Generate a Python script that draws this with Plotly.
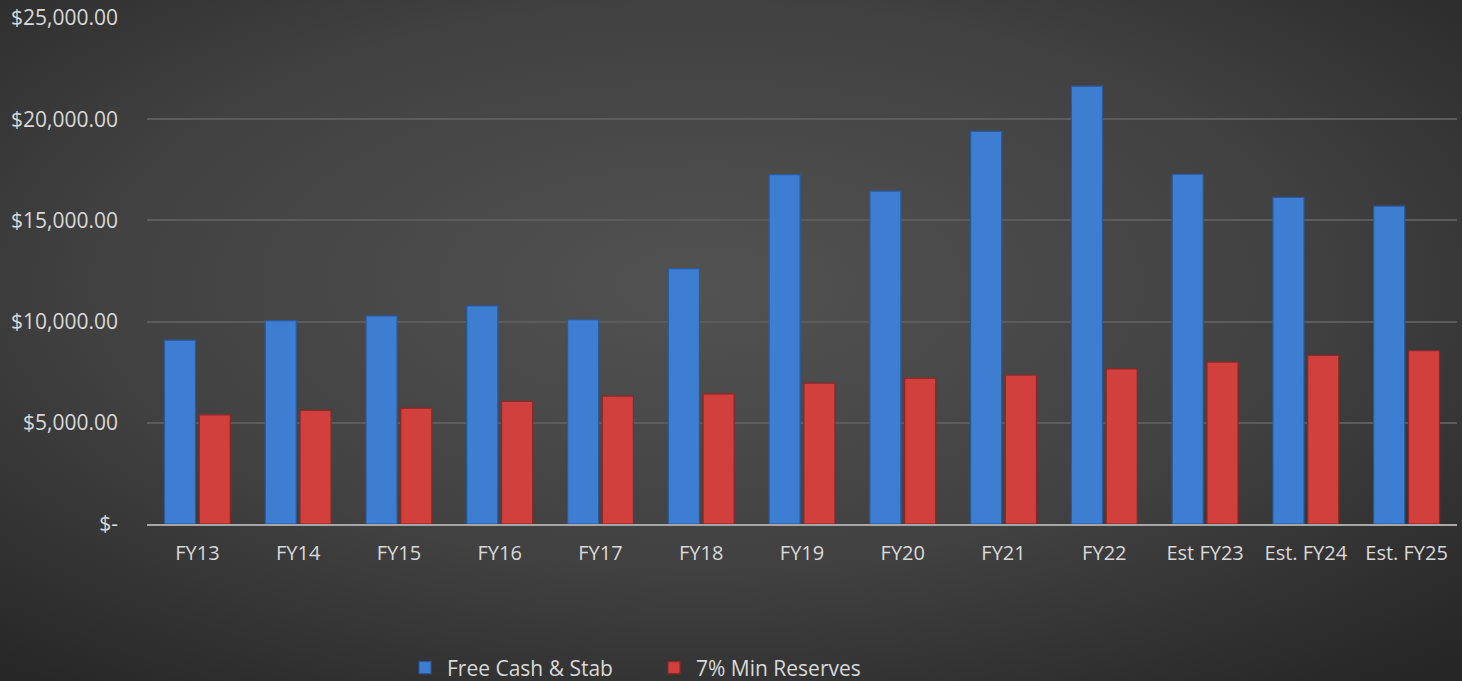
import plotly.graph_objects as go
import urllib.parse

categories = ["FY13", "FY14", "FY15", "FY16", "FY17", "FY18", "FY19", "FY20",
              "FY21", "FY22", "Est FY23", "Est. FY24", "Est. FY25"]
free_cash = [9080, 10050, 10280, 10775, 10100, 12620, 17260, 16450,
             19400, 21630, 17280, 16140, 15710]
min_reserves = [5395, 5610, 5725, 6055, 6320, 6430, 6960, 7205,
                7360, 7660, 8000, 8330, 8560]
y_tickvals = [0, 5000, 10000, 15000, 20000, 25000]
y_ticktext = ["$-", "$5,000.00", "$10,000.00", "$15,000.00", "$20,000.00", "$25,000.00"]

W, H = 1462, 681
L, R, T, B = 147, 5, 18, 157

svg = (
    "<svg xmlns='http://www.w3.org/2000/svg' width='1462' height='681'>"
    "<defs><radialGradient id='g' cx='48%' cy='42%' r='75%'>"
    "<stop offset='0%' stop-color='#525252'/>"
    "<stop offset='55%' stop-color='#414141'/>"
    "<stop offset='100%' stop-color='#262626'/>"
    "</radialGradient></defs>"
    "<rect width='1462' height='681' fill='url(#g)'/></svg>"
)
svg_uri = "data:image/svg+xml;charset=utf-8," + urllib.parse.quote(svg)

fig = go.Figure()
fig.add_trace(go.Bar(
    x=categories, y=free_cash, name="Free Cash & Stab",
    marker=dict(color="#3d7ed3", line=dict(color="#285a9c", width=1.2)),
))
fig.add_trace(go.Bar(
    x=categories, y=min_reserves, name="7% Min Reserves",
    marker=dict(color="#d2403d", line=dict(color="#8c2826", width=1.2)),
))

pw = W - L - R
ph = H - T - B
fig.add_layout_image(dict(
    source=svg_uri, xref="paper", yref="paper",
    x=-L / pw, y=1 + T / ph, sizex=W / pw, sizey=H / ph,
    xanchor="left", yanchor="top", sizing="stretch", layer="below",
))

fam = "'Open Sans', Lato, sans-serif"
font = dict(family=fam, size=20, color="#d9d9d9")
yfont = dict(family=fam, size=21, color="#d9d9d9")
fig.update_layout(
    width=W, height=H,
    margin=dict(l=L, r=R, t=T, b=B, autoexpand=False),
    paper_bgcolor="#3a3a3a",
    plot_bgcolor="rgba(0,0,0,0)",
    barmode="group", bargap=0.31, bargroupgap=0.107,
    font=font,
    showlegend=True,
    legend=dict(orientation="h", xref="container", yref="container",
                x=652 / W, xanchor="center", y=(H - 668) / H, yanchor="middle",
                font=dict(family=fam, size=21, color="#d9d9d9"),
                entrywidth=200, itemwidth=34, tracegroupgap=0,
                bgcolor="rgba(0,0,0,0)"),
    xaxis=dict(showgrid=False, showline=True, linecolor="#a6a6a6", linewidth=2,
               ticks="", tickfont=font, ticklabelstandoff=10, automargin=False),
    yaxis=dict(range=[0, 25000], tickvals=y_tickvals, ticktext=y_ticktext,
               showgrid=True, gridcolor="#5c5c5c", gridwidth=1.5,
               zeroline=False, showline=False, ticks="", tickfont=yfont,
               ticklabelstandoff=28, automargin=False),
)

fig.write_html("out.html")
